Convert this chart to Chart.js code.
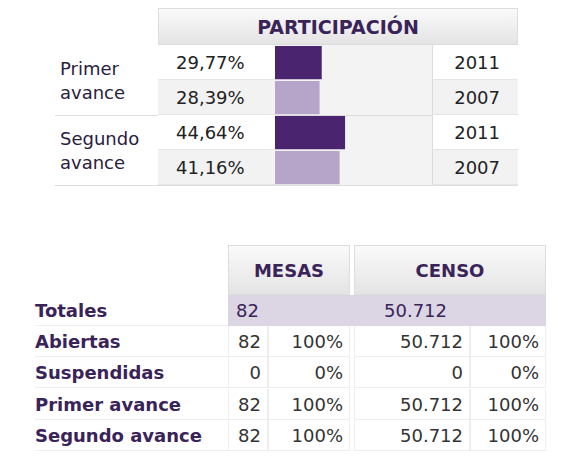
<!DOCTYPE html>
<html><head><meta charset="utf-8">
<script src="https://cdn.jsdelivr.net/npm/chart.js@4"></script>
<style>
body{margin:0;background:#fff;font-family:"DejaVu Sans",Verdana,sans-serif;width:581px;height:464px;position:relative;overflow:hidden}
.a{position:absolute;box-sizing:border-box;white-space:nowrap}
.hd{background:linear-gradient(#fafafa,#e4e4e4);color:#3a2358;font-weight:bold;text-align:center;border:1px solid #ddd}
.c{font-size:18px;color:#222;line-height:35px;border-bottom:1px solid #e6e6e6}
.lbl{font-size:18px;color:#2a2040;line-height:24px}
.b{font-size:18px;font-weight:bold;color:#3a2358;line-height:31px;border-bottom:1px solid #eee}
.v{font-size:18px;color:#333;line-height:31px;border:1px solid #eee;border-top:0;text-align:right;padding-right:6px}
</style></head><body>
<div class="a" style="left:275px;top:45px;width:157px;height:140px;background:#f3f3f3"><canvas id="bars"></canvas></div>
<script>
const groups = ['Primer\navance', 'Segundo\navance'];
const years = ['2011', '2007', '2011', '2007'];
const participacion = [29.77, 28.39, 44.64, 41.16];
const mesasRows = ['Abiertas', 'Suspendidas', 'Primer avance', 'Segundo avance'];
const mesas = [82, 0, 82, 82];
const mesasPct = ['100%', '0%', '100%', '100%'];
const censo = ['50.712', '0', '50.712', '50.712'];
const censoPct = ['100%', '0%', '100%', '100%'];
const totalMesas = 82, totalCenso = '50.712';

function div(cls, style, text) {
  const d = document.createElement('div');
  d.className = 'a ' + cls; d.style.cssText = style; d.textContent = text;
  document.body.appendChild(d); return d;
}
const fmt = v => v.toFixed(2).replace('.', ',') + '%';

div('hd', 'left:158px;top:8px;width:360px;height:37px;line-height:37px;font-size:19px', 'PARTICIPACIÓN');
groups.forEach((g, i) => {
  div('lbl', 'left:60px;top:' + (57 + i * 70) + 'px;white-space:pre', g);
  div('', 'left:55px;top:' + (115 + i * 70) + 'px;width:463px;border-top:1px solid #ddd;height:0', '');
});
participacion.forEach((p, i) => {
  const y = 45 + i * 35, bg = i % 2 ? '#f2f2f2' : '#fff';
  div('c', 'left:158px;top:' + y + 'px;width:117px;height:35px;padding-left:18px;background:' + bg, fmt(p));
  div('c', 'left:432px;top:' + y + 'px;width:86px;height:35px;text-align:right;padding-right:18px;border-left:1px solid #ddd;background:' + bg, years[i]);
});

new Chart(document.getElementById('bars'), {
  type: 'bar',
  data: { labels: years.map((y, i) => i + y), datasets: [{
    data: participacion,
    backgroundColor: ['#4b2470', '#b7a5c9', '#4b2470', '#b7a5c9'],
    categoryPercentage: 1, barPercentage: 0.95
  }]},
  options: {
    indexAxis: 'y', responsive: true, maintainAspectRatio: false, animation: false,
    layout: { padding: 0 },
    plugins: { legend: { display: false }, tooltip: { enabled: false } },
    scales: {
      x: { display: false, min: 0, max: 100 },
      y: { display: false }
    }
  }
});

div('hd', 'left:228px;top:245px;width:122px;height:50px;line-height:50px;font-size:18px', 'MESAS');
div('hd', 'left:354px;top:245px;width:192px;height:50px;line-height:50px;font-size:18px', 'CENSO');
div('b', 'left:35px;top:295px;width:193px;height:31px', 'Totales');
div('', 'left:228px;top:295px;width:318px;height:31px;background:#dcd6e4', '');
div('v', 'left:228px;top:295px;width:122px;height:31px;text-align:left;padding-left:8px;border:0;color:#3a2358', String(totalMesas));
div('v', 'left:354px;top:295px;width:192px;height:31px;text-align:left;padding-left:30px;border:0;color:#3a2358', totalCenso);
mesasRows.forEach((r, i) => {
  const y = 326 + i * 31.3;
  div('b', 'left:35px;top:' + y + 'px;width:193px;height:31px', r);
  div('v', 'left:228px;top:' + y + 'px;width:40px;height:31px', String(mesas[i]));
  div('v', 'left:268px;top:' + y + 'px;width:82px;height:31px', mesasPct[i]);
  div('v', 'left:354px;top:' + y + 'px;width:116px;height:31px', censo[i]);
  div('v', 'left:470px;top:' + y + 'px;width:76px;height:31px', censoPct[i]);
});
</script>
</body></html>
